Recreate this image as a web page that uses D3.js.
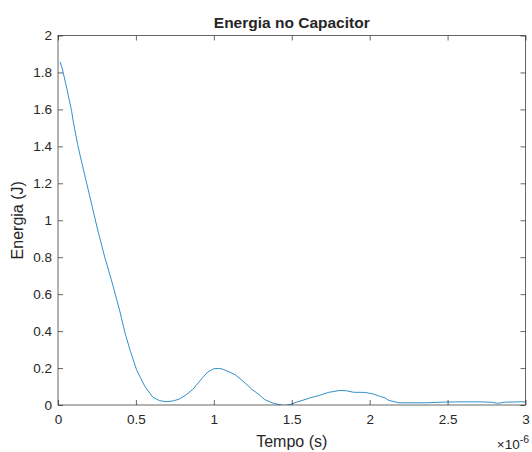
<!DOCTYPE html>
<html>
<head>
<meta charset="utf-8">
<script src="https://cdn.jsdelivr.net/npm/d3@7/dist/d3.min.js"></script>
<style>
  html, body { margin: 0; padding: 0; background: #fff; }
  svg { display: block; }
  text { font-family: "Liberation Sans", Arial, Helvetica, sans-serif; fill: #262626; }
</style>
</head>
<body>
<svg id="chart" width="532" height="452"></svg>
<script>
// Time in units of 1e-6 s
const tempo = [0.013, 0.028, 0.06, 0.088, 0.098, 0.126, 0.156, 0.2, 0.255, 0.3, 0.35, 0.4, 0.43, 0.465, 0.504, 0.557, 0.61, 0.65, 0.694, 0.74, 0.778, 0.82, 0.863, 0.926, 0.96, 1.0, 1.03, 1.053, 1.09, 1.137, 1.19, 1.243, 1.29, 1.327, 1.38, 1.42, 1.455, 1.49, 1.54, 1.595, 1.622, 1.67, 1.735, 1.81, 1.85, 1.897, 1.972, 2.02, 2.069, 2.1, 2.123, 2.188, 2.36, 2.489, 2.6, 2.705, 2.78, 2.823, 2.866, 2.95, 2.985, 3.0];
const energia = [1.858, 1.819, 1.70, 1.588, 1.534, 1.41, 1.30, 1.143, 0.947, 0.80, 0.655, 0.497, 0.39, 0.29, 0.191, 0.101, 0.041, 0.024, 0.018, 0.022, 0.032, 0.054, 0.083, 0.146, 0.178, 0.196, 0.198, 0.195, 0.182, 0.164, 0.127, 0.086, 0.056, 0.029, 0.010, 0.002, -0.003, 0.003, 0.018, 0.032, 0.040, 0.050, 0.068, 0.079, 0.077, 0.069, 0.068, 0.060, 0.046, 0.038, 0.025, 0.012, 0.012, 0.016, 0.017, 0.017, 0.015, 0.009, 0.015, 0.017, 0.018, 0.016];
const xTicks = [0, 0.5, 1, 1.5, 2, 2.5, 3];
const xTickLabels = ["0", "0.5", "1", "1.5", "2", "2.5", "3"];
const yTicks = [0, 0.2, 0.4, 0.6, 0.8, 1, 1.2, 1.4, 1.6, 1.8, 2];
const yTickLabels = ["0", "0.2", "0.4", "0.6", "0.8", "1", "1.2", "1.4", "1.6", "1.8", "2"];
const titleText = "Energia no Capacitor";
const xLabelText = "Tempo (s)";
const yLabelText = "Energia (J)";

const svg = d3.select("#chart");
const L = 58, R = 525.5, T = 35.5, B = 405;
const x = d3.scaleLinear().domain([0, 3]).range([L, R]);
const y = d3.scaleLinear().domain([0, 2]).range([B, T]);
const axisColor = "#262626";

svg.append("rect").attr("width", 532).attr("height", 452).attr("fill", "#fff");

svg.append("defs").append("clipPath").attr("id", "clip")
  .append("rect").attr("x", L).attr("y", T).attr("width", R - L).attr("height", B - T);

// data line
const data = tempo.map((t, i) => ({ t, e: energia[i] }));
svg.append("path")
  .datum(data)
  .attr("clip-path", "url(#clip)")
  .attr("fill", "none")
  .attr("stroke", "#0072BD")
  .attr("stroke-width", 0.8)
  .attr("stroke-linejoin", "round")
  .attr("d", d3.line().x(d => x(d.t)).y(d => y(d.e)));

function styleAxis(g) {
  g.select(".domain").remove();
  g.selectAll(".tick line").attr("stroke", axisColor).attr("stroke-width", 0.7);
  g.selectAll(".tick text").attr("fill", axisColor).style("font-size", "13.5px")
    .style("font-family", '"Liberation Sans", Arial, sans-serif');
}

const xFmt = d => xTickLabels[xTicks.indexOf(d)];
const yFmt = d => yTickLabels[yTicks.indexOf(d)];

svg.append("g").attr("transform", `translate(0,${B})`)
  .call(d3.axisBottom(x).tickValues(xTicks).tickFormat(xFmt).tickSizeInner(-5).tickSizeOuter(0).tickPadding(9))
  .call(styleAxis);
svg.append("g").attr("transform", `translate(0,${T})`)
  .call(d3.axisTop(x).tickValues(xTicks).tickFormat("").tickSizeInner(-5).tickSizeOuter(0))
  .call(styleAxis);
svg.append("g").attr("transform", `translate(${L},0)`)
  .call(d3.axisLeft(y).tickValues(yTicks).tickFormat(yFmt).tickSizeInner(-5).tickSizeOuter(0).tickPadding(6))
  .call(styleAxis);
svg.append("g").attr("transform", `translate(${R},0)`)
  .call(d3.axisRight(y).tickValues(yTicks).tickFormat("").tickSizeInner(-5).tickSizeOuter(0))
  .call(styleAxis);

// box
svg.append("rect")
  .attr("x", L).attr("y", T).attr("width", R - L).attr("height", B - T)
  .attr("fill", "none").attr("stroke", axisColor).attr("stroke-width", 0.7);

// title
svg.append("text")
  .attr("x", (L + R) / 2).attr("y", 28)
  .attr("text-anchor", "middle")
  .style("font-size", "15.5px").style("font-weight", "bold")
  .attr("fill", "#000")
  .text(titleText);

// x label
svg.append("text")
  .attr("x", (L + R) / 2).attr("y", 447)
  .attr("text-anchor", "middle")
  .style("font-size", "16px")
  .text(xLabelText);

// y label
svg.append("text")
  .attr("transform", `translate(23,${(T + B) / 2}) rotate(-90)`)
  .attr("text-anchor", "middle")
  .style("font-size", "16px")
  .text(yLabelText);

// exponent
const ex = svg.append("text")
  .attr("x", 529).attr("y", 449)
  .attr("text-anchor", "end")
  .style("font-size", "13.5px");
ex.append("tspan").text("\u00D710");
ex.append("tspan").attr("dy", -6).style("font-size", "10.5px").text("-6");
</script>
</body>
</html>
